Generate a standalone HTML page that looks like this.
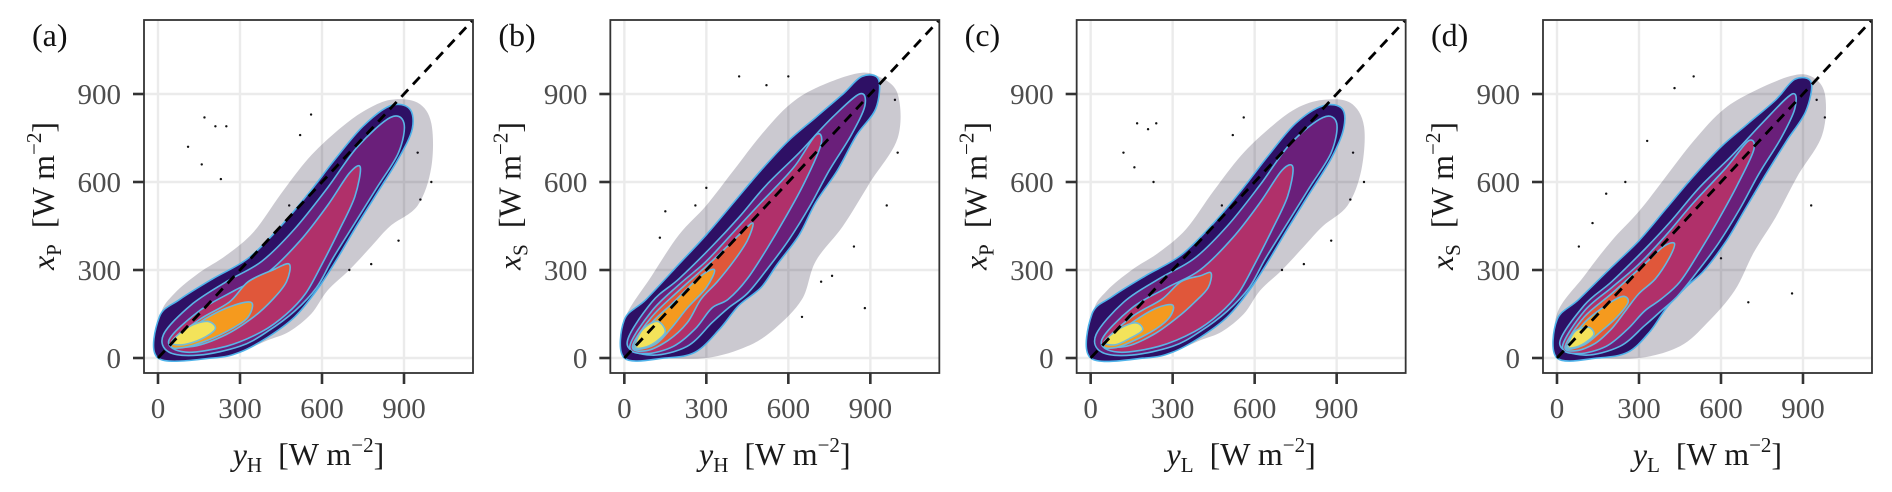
<!DOCTYPE html>
<html><head><meta charset="utf-8"><style>
html,body{margin:0;padding:0;background:#fff;}
svg{display:block;}
</style></head><body>
<svg id="chart" width="1892" height="492" viewBox="0 0 1892 492" xmlns="http://www.w3.org/2000/svg" font-family="'Liberation Serif', serif"></svg>
<script>
// ---- data (values in W m^-2) ----
const panelLabels = ["(a)","(b)","(c)","(d)"];
const yVar = [["x","P"],["x","S"],["x","P"],["x","S"]];
const xVar = [["y","H"],["y","H"],["y","L"],["y","L"]];
const ticks = [0,300,600,900];
const levelColors = ["rgba(20,10,40,0.22)","#2e1065","#6a1f7a","#b0306a","#e0573a","#f59a1e","#f3e35a"];
const levelStroke = [null,"#4fb3ea","#5ab5e6","#5ab5e6","#62b8e2","#6ab8dc","#76bcd6"];
const panelA = [
 [[0,20],[10,150],[60,220],[150,290],[250,350],[350,430],[450,560],[550,680],[650,770],[750,840],[850,880],[950,870],[1000,800],[1000,650],[950,520],[850,450],[780,380],[700,300],[620,230],[560,150],[480,90],[400,60],[300,20],[200,0],[50,0]],
 [[0,0],[5,140],[80,200],[200,270],[330,340],[450,450],[550,560],[650,680],[750,790],[850,860],[920,850],[930,780],[880,680],[800,560],[720,440],[650,330],[580,230],[500,140],[400,70],[300,20],[200,0]],
 [[20,80],[120,180],[250,260],[380,330],[500,440],[620,580],[730,720],[850,820],[900,800],[880,700],[800,580],[720,460],[640,340],[580,240],[500,160],[400,90],[300,40],[150,10],[40,20]],
 [[40,60],[150,160],[280,230],[400,290],[520,400],[620,520],[700,630],[740,650],[720,550],[660,430],[600,320],[540,220],[470,150],[380,90],[250,40],[100,20]],
 [[50,50],[150,130],[260,190],[330,260],[420,300],[480,320],[470,260],[420,200],[350,140],[250,80],[130,40]],
 [[50,45],[150,120],[250,170],[340,190],[330,140],[270,100],[180,60],[90,35]],
 [[50,55],[110,105],[180,125],[210,100],[160,65],[90,45]]
];
const panelB = [
 [[0,0],[0,130],[100,280],[200,420],[300,520],[400,640],[500,760],[600,860],[700,920],[850,970],[930,960],[1000,900],[1000,750],[900,600],[800,450],[700,330],[650,200],[550,100],[450,40],[300,0],[100,0]],
 [[0,0],[0,130],[80,200],[200,320],[300,420],[400,530],[500,640],[600,740],[700,820],[800,900],[870,960],[930,950],[920,850],[850,760],[780,640],[700,530],[640,420],[560,320],[500,240],[420,180],[350,100],[260,20],[150,0]],
 [[10,50],[100,190],[200,270],[320,380],[420,480],[520,590],[640,700],[750,810],[860,900],[880,860],[830,760],[750,640],[680,520],[600,400],[520,300],[450,220],[380,170],[320,120],[230,40],[100,10]],
 [[20,40],[100,160],[200,250],[300,330],[400,430],[500,530],[620,650],[700,760],[720,730],[660,600],[590,480],[520,370],[450,270],[380,200],[320,170],[260,100],[180,40],[80,15]],
 [[30,40],[100,140],[200,230],[320,330],[420,420],[470,460],[450,400],[400,330],[340,260],[280,200],[230,120],[160,60],[80,25]],
 [[35,35],[100,120],[180,190],[280,280],[330,300],[300,240],[230,170],[170,100],[110,45]],
 [[40,40],[65,95],[120,125],[150,90],[115,55],[70,35]]
];
const panelC = [
 [[0,20],[10,160],[60,230],[150,300],[250,360],[350,440],[450,570],[550,690],[650,780],[750,850],[850,880],[950,870],[1000,790],[990,640],[940,520],[850,450],[780,380],[700,300],[620,230],[560,150],[480,90],[400,60],[300,20],[200,0],[50,0]],
 [[0,0],[5,150],[80,210],[200,280],[330,350],[450,460],[550,570],[650,690],[750,800],[850,860],[920,850],[925,780],[880,680],[800,560],[720,440],[650,330],[580,230],[500,140],[400,70],[300,20],[200,0]],
 [[20,80],[120,190],[250,270],[380,340],[500,450],[620,590],[730,730],[850,820],[900,800],[880,700],[800,580],[720,460],[640,340],[580,240],[500,160],[400,90],[300,40],[150,10],[40,20]],
 [[40,60],[150,170],[280,240],[400,300],[520,410],[620,530],[700,640],[740,650],[720,550],[660,430],[600,320],[540,220],[470,150],[380,90],[250,40],[100,20]],
 [[50,50],[150,140],[260,200],[330,260],[400,280],[440,290],[430,240],[380,190],[320,140],[230,80],[130,40]],
 [[50,45],[150,120],[240,170],[300,180],[290,140],[240,100],[160,60],[90,35]],
 [[50,55],[105,100],[165,120],[190,95],[140,65],[90,45]]
];
const panelD = [
 [[0,0],[0,150],[100,280],[200,400],[300,500],[400,620],[500,740],[600,840],[700,900],[850,960],[930,960],[980,900],[970,760],[880,620],[800,480],[720,360],[650,230],[550,120],[450,40],[300,0],[100,0]],
 [[0,0],[0,130],[80,200],[200,310],[300,400],[400,510],[500,620],[600,720],[700,800],[800,880],[870,950],[930,940],[910,840],[840,740],[760,620],[690,510],[620,400],[540,300],[470,240],[400,170],[340,90],[260,20],[150,0]],
 [[10,50],[100,180],[200,260],[320,370],[420,470],[520,580],[640,690],[750,800],[860,900],[870,850],[820,750],[740,630],[670,510],[590,390],[510,290],[440,210],[380,160],[320,110],[230,40],[100,10]],
 [[20,40],[100,160],[200,240],[300,320],[400,420],[500,530],[620,650],[700,740],[720,710],[660,590],[590,470],[520,360],[450,260],[380,200],[320,160],[260,100],[180,40],[80,15]],
 [[30,40],[100,140],[200,220],[320,320],[390,380],[430,390],[410,340],[360,270],[300,220],[250,160],[200,100],[140,50],[70,25]],
 [[35,35],[100,120],[180,180],[240,210],[260,190],[220,140],[160,90],[100,45]],
 [[40,40],[65,90],[115,105],[135,80],[100,50],[60,35]]
];
const panels = [panelA, panelB, panelC, panelD];
const outliersX = [[170,210,250,110,160,230,480,560,520,700,780,880,960,1000,950],[130,150,260,300,420,520,600,650,720,760,840,880,960,1000,990],[170,210,240,120,160,230,480,560,520,700,780,880,950,1000,960],[80,130,180,250,330,430,500,600,700,720,780,860,930,950,980]];
const outliersY = [[820,790,790,720,660,610,520,830,760,300,320,400,540,600,700],[410,500,520,580,960,930,960,140,260,280,380,170,520,700,880],[800,780,800,700,650,600,520,820,760,300,320,400,540,600,700],[380,460,560,600,740,920,960,340,190,560,740,220,520,880,820]];

// ---- layout ----
const NS = "http://www.w3.org/2000/svg";
const svg = document.getElementById("chart");
const PANEL_STEP = 466.33, BOX_L = 144, BOX_W = 329, BOX_T = 20, BOX_B = 373;
const X0 = 158, KX = (404-158)/900, Y0 = 358, KY = (358-94)/900;
function mk(tag, attrs, parent){const e=document.createElementNS(NS,tag);for(const k in attrs)e.setAttribute(k,attrs[k]);(parent||svg).appendChild(e);return e;}
function smoothPath(pts){
  const n=pts.length;let d=`M${pts[0][0].toFixed(1)},${pts[0][1].toFixed(1)}`;
  for(let i=0;i<n;i++){const p0=pts[(i-1+n)%n],p1=pts[i],p2=pts[(i+1)%n],p3=pts[(i+2)%n];
    const c1=[p1[0]+(p2[0]-p0[0])/6,p1[1]+(p2[1]-p0[1])/6],c2=[p2[0]-(p3[0]-p1[0])/6,p2[1]-(p3[1]-p1[1])/6];
    d+=`C${c1[0].toFixed(1)},${c1[1].toFixed(1)} ${c2[0].toFixed(1)},${c2[1].toFixed(1)} ${p2[0].toFixed(1)},${p2[1].toFixed(1)}`;}
  return d+"Z";
}
function axisTitle(parent, attrs, v){
  const t=mk("text",Object.assign({"font-size":"32","fill":"#1a1a1a"},attrs),parent);
  const a=mk("tspan",{"font-style":"italic"},t);a.textContent=v[0];
  const b=mk("tspan",{"font-size":"21","dy":"7"},t);b.textContent=v[1];
  const c=mk("tspan",{"dy":"-7"},t);c.textContent="\u2002[W m";
  const s=mk("tspan",{"font-size":"21","dy":"-13"},t);s.textContent="\u22122";
  const e=mk("tspan",{"dy":"13"},t);e.textContent="]";
  return t;
}
panels.forEach((levels,i)=>{
  const off = i*PANEL_STEP;
  const sx = v => X0 + off + v*KX;
  const sy = v => Y0 - v*KY;
  const g = mk("g",{});
  
  
  const clipId="clip"+i;
  const cp=mk("clipPath",{id:clipId},g);
  mk("rect",{x:BOX_L+off,y:BOX_T,width:BOX_W,height:BOX_B-BOX_T},cp);
  const grid=mk("g",{},g);
  
  
  ticks.forEach(t=>{
    mk("line",{x1:sx(t),x2:sx(t),y1:BOX_T,y2:BOX_B,stroke:"#ebebeb","stroke-width":2.4},grid);
    mk("line",{x1:BOX_L+off,x2:BOX_L+off+BOX_W,y1:sy(t),y2:sy(t),stroke:"#ebebeb","stroke-width":2.4},grid);
  });
  const dens=mk("g",{"clip-path":`url(#${clipId})`},g);
  
  
  outliersX[i].forEach((xv,k)=>{
    const c=mk("circle",{cx:sx(xv),cy:sy(outliersY[i][k]),r:1.2,fill:"#111"},dens);
    
    
  });
  levels.forEach((poly,l)=>{
    const pts=poly.map(p=>[sx(p[0]),sy(p[1])]);
    const p=mk("path",{d:smoothPath(pts),fill:levelColors[l],stroke:levelStroke[l]||"none","stroke-width":1.6},dens);
    
    
  });
  const dl=mk("line",{x1:sx(0),y1:sy(0),x2:sx(1153),y2:sy(1153),stroke:"#000","stroke-width":2.8,"stroke-dasharray":"10,7","clip-path":`url(#${clipId})`},g);
  
  
  const bx=mk("rect",{x:BOX_L+off,y:BOX_T,width:BOX_W,height:BOX_B-BOX_T,fill:"none",stroke:"#333","stroke-width":1.8},g);
  
  
  ticks.forEach(t=>{
    mk("line",{x1:BOX_L+off-11,x2:BOX_L+off,y1:sy(t),y2:sy(t),stroke:"#333","stroke-width":2.6},g);
    mk("line",{x1:sx(t),x2:sx(t),y1:BOX_B,y2:BOX_B+11,stroke:"#333","stroke-width":2.6},g);
    const yl=mk("text",{x:BOX_L+off-23,y:sy(t)+10,"text-anchor":"end","font-size":"29",fill:"#4d4d4d"},g);
    yl.textContent=t;
    
    
    const xl=mk("text",{x:sx(t),y:BOX_B+45,"text-anchor":"middle","font-size":"29",fill:"#4d4d4d"},g);
    xl.textContent=t;
    
    
  });
  const xt=axisTitle(g,{x:BOX_L+off+BOX_W/2,y:465,"text-anchor":"middle"},xVar[i]);
  
  
  const yt=axisTitle(g,{x:0,y:0,"text-anchor":"middle",transform:`translate(${BOX_L+off-90},196) rotate(-90)`},yVar[i]);
  
  
  const pl=mk("text",{x:BOX_L+off-112,y:46,"font-size":"32",fill:"#111"},g);
  pl.textContent=panelLabels[i];
  
  
});
</script>
</body></html>
